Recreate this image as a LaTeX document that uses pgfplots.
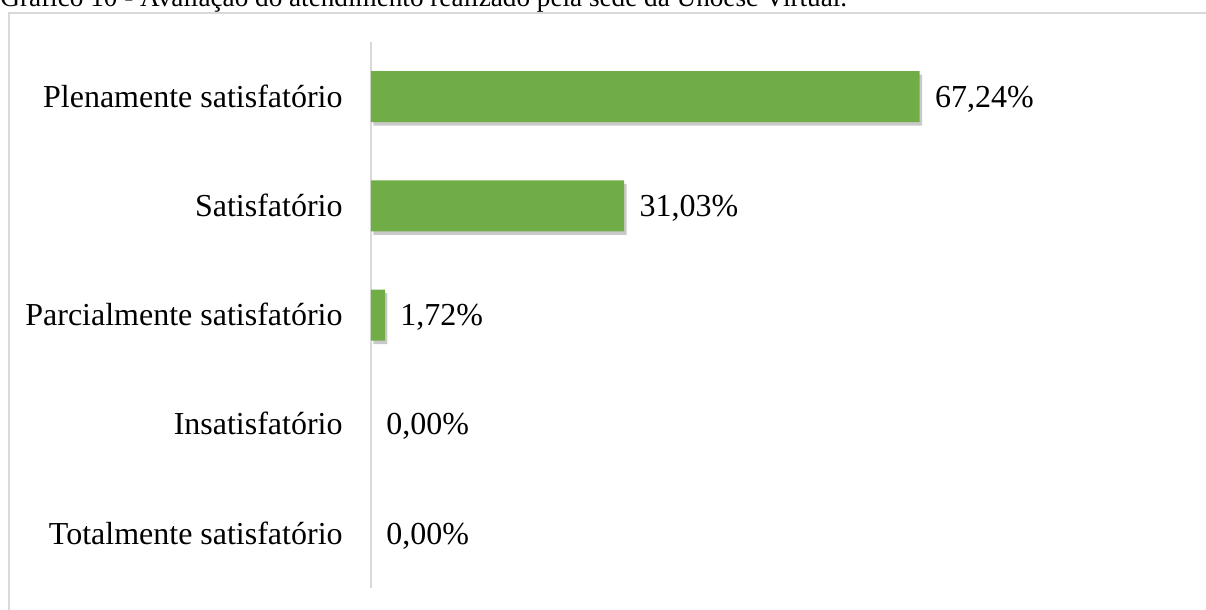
\documentclass[border=0pt]{standalone}
\usepackage{pgfplots}
\pgfplotsset{compat=1.18}
\usepackage{fontspec}
\setmainfont{Liberation Serif}
\usetikzlibrary{shadows}
\definecolor{bargreen}{RGB}{112,173,71}
\definecolor{framegray}{RGB}{217,217,217}

\pgfplotstableread{
y x lab
4 67.24 {67,24}
3 31.03 {31,03}
2 1.72  {1,72}
1 0     {0,00}
0 0     {0,00}
}\avaliacao

\begin{document}
\begin{tikzpicture}
% page = 1206x610 px at 0.5pt per px
\useasboundingbox (0,0) rectangle (603pt,-305pt);
\node[anchor=base west, inner sep=0pt, font=\fontsize{13.6}{16}\selectfont]
  at (0pt,-3.5pt) {Gráfico 10 - Avaliação do atendimento realizado pela sede da Unoesc Virtual.};
\draw[framegray, line width=1pt] (4.25pt,-330pt) -- (4.25pt,-6.5pt) -- (620pt,-6.5pt);

\begin{axis}[
  at={(185.5pt,-294pt)}, anchor=south west,
  scale only axis, width=408pt, height=273pt,
  xbar, bar width=25.5pt, bar shift=0pt,
  xmin=0, xmax=100, ymin=-0.5, ymax=4.5,
  hide x axis,
  axis y line*=left,
  y axis line style={framegray, line width=1pt, -},
  ytick={0,1,2,3,4},
  yticklabels={Totalmente satisfatório, Insatisfatório, Parcialmente satisfatório,
               Satisfatório, Plenamente satisfatório},
  major tick length=0pt,
  yticklabel style={font=\fontsize{16}{19}\selectfont, anchor=base east, inner sep=0pt,
                    xshift=-14pt, yshift=-5.3pt},
  clip=false,
]
  % bars (zero rows left out so nothing is drawn for them)
  \addplot[fill=bargreen, draw=none, restrict x to domain=0.01:100,
    drop shadow={shadow xshift=1.2pt, shadow yshift=-1.8pt, opacity=0.3, fill=black!70}]
    table[x=x, y=y] {\avaliacao};
  % value labels for every row
  \addplot[fill=none, draw=none,
    point meta=explicit symbolic,
    nodes near coords={\pgfplotspointmeta\%},
    every node near coord/.append style={font=\fontsize{16}{19}\selectfont, anchor=base west,
                                        inner sep=0pt, xshift=7.5pt, yshift=-5.3pt, text=black}]
    table[x=x, y=y, meta=lab] {\avaliacao};
\end{axis}
\end{tikzpicture}
\end{document}
